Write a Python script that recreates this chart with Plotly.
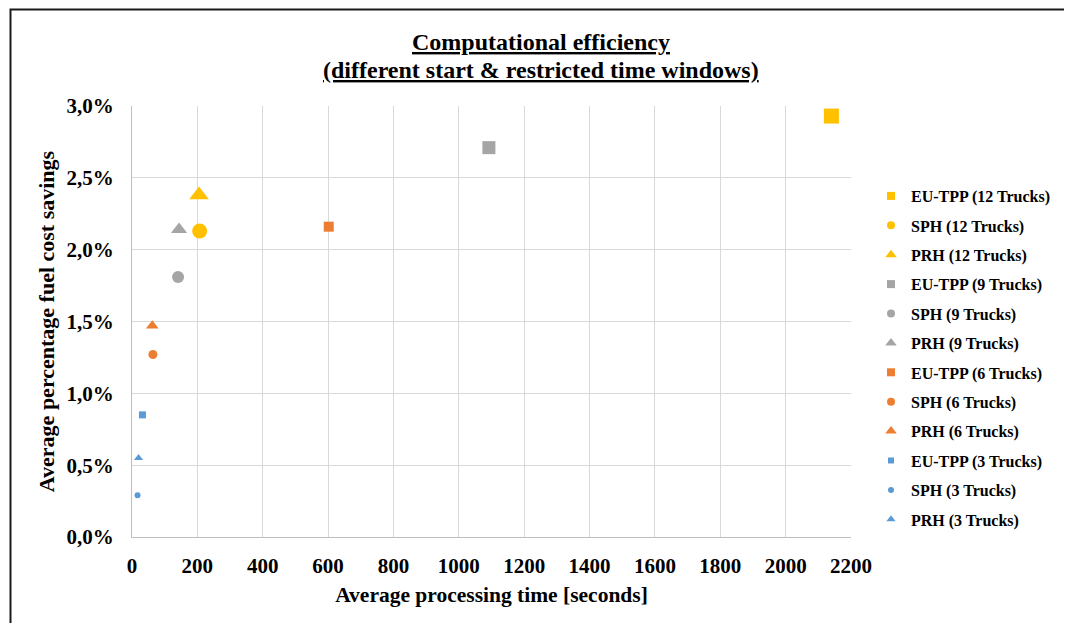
import plotly.graph_objects as go

# ---- data ----
trucks = [12, 9, 6, 3]
colors = ["#FFC000", "#A5A5A5", "#ED7D31", "#5B9BD5"]

eu_tpp_time = [2140, 1092, 602, 32]
eu_tpp_savings = [0.0293, 0.0271, 0.0216, 0.0085]

sph_time = [207, 141, 64, 17]
sph_savings = [0.0213, 0.0181, 0.0127, 0.0029]

prh_time = [205, 144, 62, 20]
prh_savings = [0.0238, 0.0214, 0.0147, 0.0055]

x_ticks = list(range(0, 2201, 200))
y_ticks = [0, 0.005, 0.01, 0.015, 0.02, 0.025, 0.03]

title_lines = ["Computational efficiency", "(different start & restricted time windows)"]

# marker sizes per fleet size (plot / legend)
sq_size = [15, 13, 10, 7]
ci_size = [15, 12, 9, 6]
tr_size = [17, 14, 11, 8]
leg_size = [8, 8, 8, 6]

FONT = "Liberation Serif, Times New Roman, serif"

fig = go.Figure()

methods = [
    ("EU-TPP", "square", eu_tpp_time, eu_tpp_savings, sq_size),
    ("SPH", "circle", sph_time, sph_savings, ci_size),
    ("PRH", "triangle-up", prh_time, prh_savings, tr_size),
]

for i, t in enumerate(trucks):
    for name, sym, xs, ys, sizes in methods:
        label = f"{name} ({t} Trucks)"
        fig.add_trace(go.Scatter(
            x=[xs[i]], y=[ys[i]], mode="markers", name=label,
            marker=dict(symbol=sym, color=colors[i], size=sizes[i], line=dict(width=0)),
            showlegend=False, hoverinfo="x+y+name",
        ))
        fig.add_trace(go.Scatter(
            x=[None], y=[None], mode="markers", name=label,
            legendgroup=label,
            marker=dict(symbol=sym, color=colors[i],
                        size=leg_size[i] if sym != "triangle-up" else leg_size[i] + 2,
                        line=dict(width=0)),
            showlegend=True,
        ))

# page body has an 8px margin -> work in shifted coordinates
OFF = 8
W, H = 1064, 615
L = 132 - OFF
T = 106 - OFF
Rx = 851 - OFF
Bx = 537 - OFF
R = W - Rx
B = H - Bx
pw, ph = Rx - L, Bx - T


def px_x(x):
    return (x - OFF - L) / pw


def px_y(y):
    return (Bx - (y - OFF)) / ph


fig.update_layout(
    width=W, height=H,
    margin=dict(l=L, r=R, t=T, b=B),
    paper_bgcolor="white", plot_bgcolor="white",
    separators=",.",
    font=dict(family=FONT, color="black", size=16),
    xaxis=dict(
        range=[0, 2200], tickvals=x_ticks,
        showgrid=True, gridcolor="#D9D9D9", gridwidth=1,
        showline=True, linecolor="#BFBFBF", linewidth=1,
        zeroline=False, ticks="",
        tickfont=dict(family=FONT, size=21, weight="bold"),
        ticklabelstandoff=10,
        title=dict(text="Average processing time [seconds]", standoff=9,
                   font=dict(family=FONT, size=21.5, weight="bold")),
    ),
    yaxis=dict(
        range=[0, 0.03], tickvals=y_ticks, tickformat=".1%",
        showgrid=True, gridcolor="#D9D9D9", gridwidth=1,
        showline=True, linecolor="#BFBFBF", linewidth=1,
        zeroline=False, ticks="",
        tickfont=dict(family=FONT, size=21, weight="bold"),
        ticklabelstandoff=13,
        title=dict(text="Average percentage fuel cost savings", standoff=5,
                   font=dict(family=FONT, size=22, weight="bold")),
    ),
    legend=dict(
        x=px_x(871), xanchor="left",
        y=px_y(179), yanchor="top",
        font=dict(family=FONT, size=16, weight="bold"),
        tracegroupgap=5.6, traceorder="grouped",
        bgcolor="rgba(0,0,0,0)",
    ),
    annotations=[
        dict(text=f"<u>{title_lines[0]}</u>", xref="paper", yref="paper",
             x=px_x(541), y=px_y(42), xanchor="center", yanchor="middle",
             showarrow=False, font=dict(family=FONT, size=24, weight="bold")),
        dict(text=f"<u>{title_lines[1]}</u>", xref="paper", yref="paper",
             x=px_x(541), y=px_y(70), xanchor="center", yanchor="middle",
             showarrow=False, font=dict(family=FONT, size=24, weight="bold")),
    ],
    shapes=[dict(
        type="rect", xref="paper", yref="paper",
        x0=px_x(10.5), x1=px_x(1070),
        y0=px_y(660), y1=px_y(9.5),
        line=dict(color="#1a1a1a", width=2), fillcolor="rgba(0,0,0,0)", layer="below",
    )],
)

fig.write_html("out.html")
